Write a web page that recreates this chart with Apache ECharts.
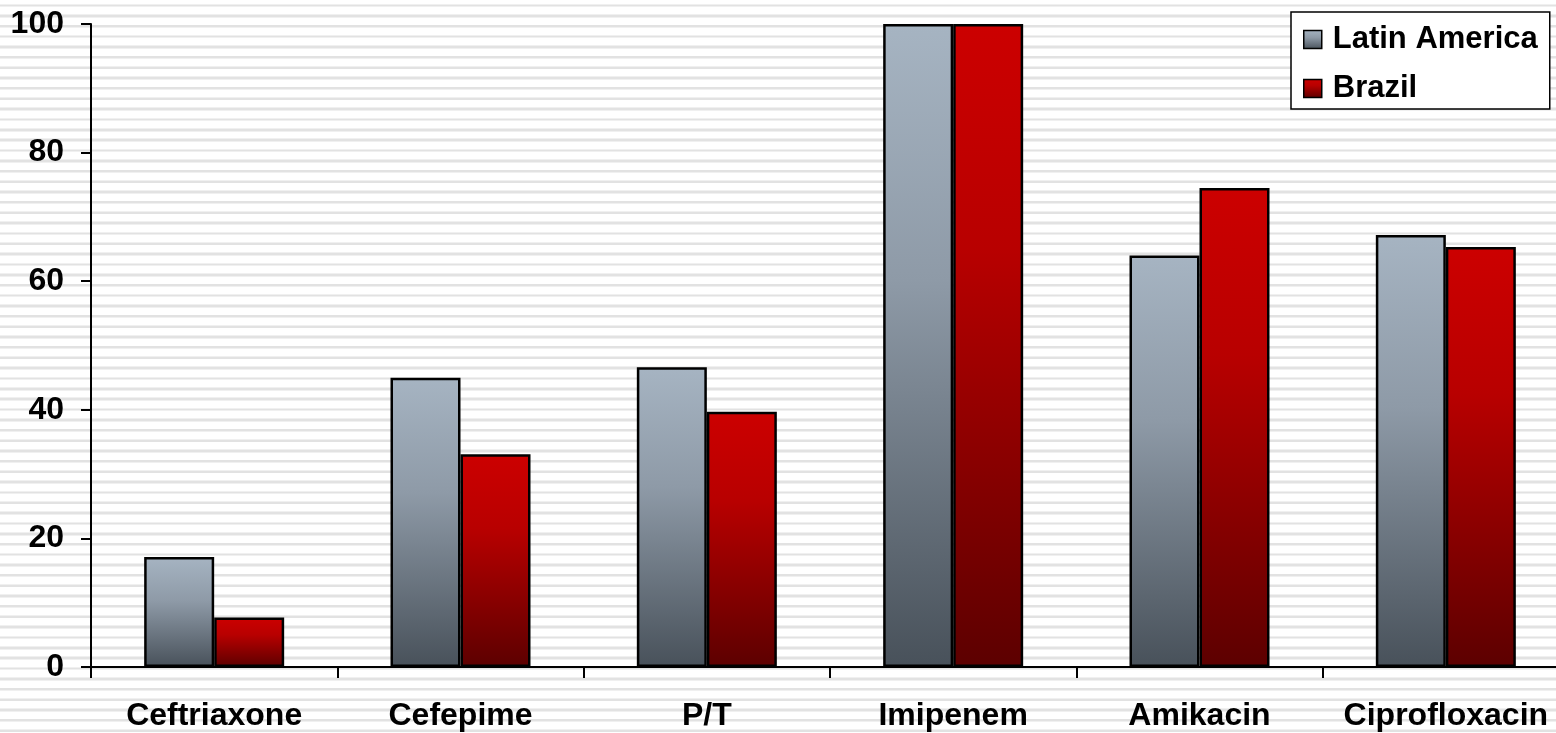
<!DOCTYPE html>
<html>
<head>
<meta charset="utf-8">
<script src="https://cdn.jsdelivr.net/npm/echarts@6/dist/echarts.min.js"></script>
<style>
  html, body { margin: 0; padding: 0; }
  body {
    width: 1556px; height: 733px; overflow: hidden;
    background-color: #ffffff;
    /* ruled slide backdrop */
    background-image: repeating-linear-gradient(to bottom,
      #ffffff 0px, #ffffff 3.8px,
      #f0f0f0 3.8px, #f0f0f0 4.6px,
      #e2e2e2 4.6px, #e2e2e2 6.4px,
      #f0f0f0 6.4px, #f0f0f0 7.2px,
      #ffffff 7.2px, #ffffff 10.36px);
  }
  #chart { width: 1556px; height: 733px; }
</style>
</head>
<body>
<div id="chart"></div>
<script>
// Antibiotic susceptibility (%) by agent
const categories = ['Ceftriaxone', 'Cefepime', 'P/T', 'Imipenem', 'Amikacin', 'Ciprofloxacin'];
const latinAmerica = [17.1, 45.0, 46.6, 100, 64.0, 67.2];
const brazil = [7.7, 33.1, 39.7, 100, 74.5, 65.3];
const yTicks = [0, 20, 40, 60, 80, 100];

const FONT = '"Liberation Sans", Arial, sans-serif';

const greyFill = new echarts.graphic.LinearGradient(0, 0, 0, 1, [
  { offset: 0, color: '#a6b4c2' },
  { offset: 0.4, color: '#8e9aa7' },
  { offset: 1, color: '#48515a' }
]);
const redFill = new echarts.graphic.LinearGradient(0, 0, 0, 1, [
  { offset: 0, color: '#cc0000' },
  { offset: 0.35, color: '#b80000' },
  { offset: 1, color: '#5c0000' }
]);

const chart = echarts.init(document.getElementById('chart'), null, { renderer: 'canvas' });

chart.setOption({
  backgroundColor: 'transparent',
  animation: false,
  grid: {
    left: 91, top: 24, width: 1478, height: 643,
    outerBoundsMode: 'none'
  },
  legend: {
    orient: 'vertical',
    left: 1291, top: 12,
    padding: [12, 12, 5, 12],
    itemWidth: 18, itemHeight: 18,
    itemGap: 18,
    backgroundColor: '#ffffff',
    borderColor: '#000000',
    borderWidth: 1.5,
    icon: 'rect',
    itemStyle: { borderColor: '#000', borderWidth: 1.5 },
    textStyle: { fontFamily: FONT, fontWeight: 'bold', fontSize: 31, color: '#000', padding: [0, 0, 0, 6] },
    data: ['Latin America', 'Brazil']
  },
  xAxis: {
    type: 'category',
    data: categories,
    boundaryGap: true,
    axisLine: { lineStyle: { color: '#000', width: 2 } },
    axisTick: { show: true, interval: 0, length: 11, lineStyle: { color: '#000', width: 2 } },
    axisLabel: { interval: 0, fontFamily: FONT, fontWeight: 'bold', fontSize: 32, color: '#000', margin: 33 },
    splitLine: { show: false }
  },
  yAxis: {
    type: 'value',
    min: yTicks[0], max: yTicks[yTicks.length - 1], interval: 20,
    axisLine: { show: true, lineStyle: { color: '#000', width: 2 } },
    axisTick: { show: true, length: 10, lineStyle: { color: '#000', width: 2 } },
    axisLabel: { fontFamily: FONT, fontWeight: 'bold', fontSize: 32, color: '#000', margin: 27 },
    splitLine: { show: false }
  },
  series: [
    {
      name: 'Latin America',
      type: 'bar',
      data: latinAmerica,
      barWidth: 70,
      barGap: '0%',
      itemStyle: { color: greyFill, borderColor: '#000', borderWidth: 2.5 }
    },
    {
      name: 'Brazil',
      type: 'bar',
      data: brazil,
      barWidth: 70,
      barGap: '0%',
      itemStyle: { color: redFill, borderColor: '#000', borderWidth: 2.5 }
    }
  ]
});
</script>
</body>
</html>
